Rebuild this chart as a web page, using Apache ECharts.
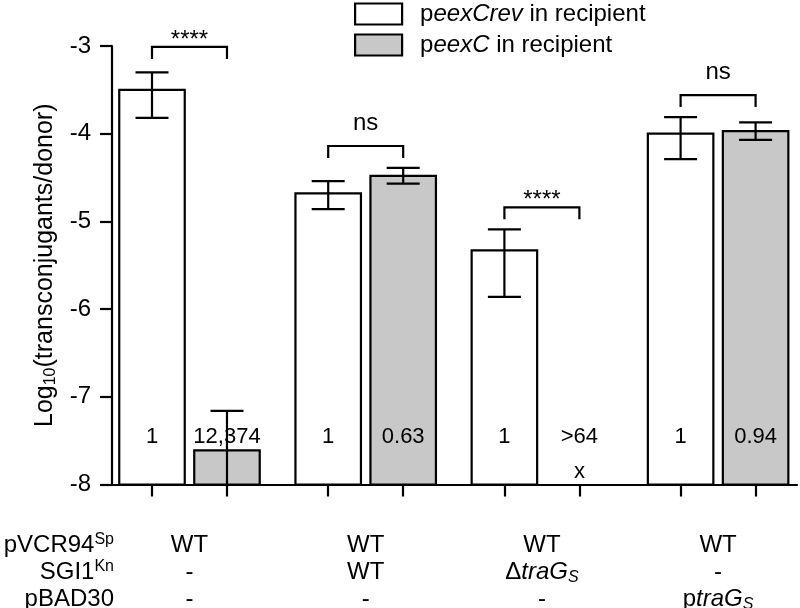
<!DOCTYPE html>
<html><head><meta charset="utf-8">
<script src="https://cdn.jsdelivr.net/npm/echarts@6/dist/echarts.min.js"></script>
<style>html,body{margin:0;padding:0;background:#fff}#c{width:800px;height:608px}</style>
</head><body><div id="c"></div><script>
// ---------- data ----------
const groups = ['pVCR94', 'pVCR94 + SGI1', 'pVCR94 + SGI1 ΔtraGS', 'pVCR94 + ptraGS'];
const seriesNames = ['peexCrev in recipient', 'peexC in recipient'];
const legendLabels = ['p{it|eexCrev} in recipient', 'p{it|eexC} in recipient'];
const revMean = [-3.50, -4.68, -5.33, -4.00];
const revHigh = [-3.30, -4.54, -5.09, -3.81];
const revLow  = [-3.82, -4.86, -5.86, -4.29];
const eexMean = [-7.61, -4.48, null, -3.97];
const eexHigh = [-7.16, -4.39, null, -3.87];
const eexLow  = [-8.30, -4.57, null, -4.07];
const revRatio = ['1', '1', '1', '1'];
const eexRatio = ['12,374', '0.63', '>64', '0.94'];
const eexUndetected = [null, null, -7.86, null];
const sigLabels = ['****', 'ns', '****', 'ns'];
const sigLevel = [-3.01, -4.14, -4.84, -3.56];
const yTicks = [-8, -7, -6, -5, -4, -3];
const rowHeaders = ['pVCR94{sup|Sp}', 'SGI1{sup|Kn}', 'pBAD30'];
const rowPVCR94 = ['WT', 'WT', 'WT', 'WT'];
const rowSGI1 = ['-', 'WT', 'Δ{it|traG}{sub|S}', '-'];
const rowPBAD30 = ['-', '-', '-', 'p{it|traG}{sub|S}'];
const RATIO_LEVEL = -7.46;

// ---------- layout / style ----------
const FONT = '"Liberation Sans", Arial, Helvetica, sans-serif';
const FS = 24;
const LH = 27;
const Y_MIN = yTicks[0], Y_MAX = yTicks[yTicks.length - 1];
const X_MIN = -0.4398, X_MAX = 3.4478;
const OFFSET = 0.2128;      // bar centre offset from group centre (group units)
const BAR_FRAC = 0.3717;    // bar width (group units)
const CAP = 16.5;           // error cap half width px
const LW = 2.2;
const fills = ['#ffffff', '#c8c8c8'];
const sigGap = { 'ns': 23, '****': 7 };

const richBase = { fontFamily: FONT, fontSize: FS, color: '#000', lineHeight: LH };
const rich = {
  it: Object.assign({}, richBase, { fontStyle: 'italic' }),
  sub: { fontFamily: FONT, fontSize: 16, fontStyle: 'italic', color: '#000', lineHeight: 11, verticalAlign: 'bottom' },
  sup: { fontFamily: FONT, fontSize: 16, color: '#000', lineHeight: 21, verticalAlign: 'top' }
};

const stroke = { stroke: '#000', lineWidth: LW };

function barSeries(k) {
  const mean = k === 0 ? revMean : eexMean;
  const high = k === 0 ? revHigh : eexHigh;
  const low = k === 0 ? revLow : eexLow;
  const side = k === 0 ? -1 : 1;
  return {
    name: seriesNames[k], type: 'custom', coordinateSystem: 'cartesian2d',
    silent: true, z: 2,
    itemStyle: { color: fills[k], borderColor: '#000', borderWidth: LW },
    encode: { x: 0, y: 1 },
    data: groups.map((g, i) => [i, mean[i] == null ? Y_MIN : mean[i]]),
    renderItem: (params, api) => {
      const i = params.dataIndex;
      if (mean[i] == null) return { type: 'group', children: [] };
      const band = api.size([1, 0])[0];
      const w = band * BAR_FRAC;
      const p = api.coord([i + side * OFFSET, mean[i]]);
      const xc = p[0], top = p[1];
      const base = api.coord([i, Y_MIN])[1];
      const hiY = api.coord([i, high[i]])[1];
      const loY = Math.min(api.coord([i, low[i]])[1], base);
      const ch = [
        { type: 'rect', shape: { x: xc - w / 2, y: top, width: w, height: base - top },
          style: { fill: fills[k], stroke: '#000', lineWidth: LW } },
        { type: 'line', shape: { x1: xc, y1: hiY, x2: xc, y2: loY }, style: stroke },
        { type: 'line', shape: { x1: xc - CAP, y1: hiY, x2: xc + CAP, y2: hiY }, style: stroke }
      ];
      if (low[i] > Y_MIN) ch.push({ type: 'line', shape: { x1: xc - CAP, y1: loY, x2: xc + CAP, y2: loY }, style: stroke });
      return { type: 'group', children: ch };
    }
  };
}

const ratioSeries = {
  type: 'custom', coordinateSystem: 'cartesian2d', silent: true, z: 3,
  encode: { x: 0, y: 1 },
  data: groups.map((g, i) => [i, RATIO_LEVEL]),
  renderItem: (params, api) => {
    const i = params.dataIndex;
    const txt = (t, x, y) => ({ type: 'text', x: x, y: y,
      style: { text: t, fill: '#000', fontSize: 22, fontFamily: FONT, align: 'center', verticalAlign: 'middle' } });
    const a = api.coord([i - OFFSET, RATIO_LEVEL]);
    const b = api.coord([i + OFFSET, RATIO_LEVEL]);
    const ch = [txt(revRatio[i], a[0], a[1]), txt(eexRatio[i], b[0], b[1])];
    if (eexUndetected[i] != null) {
      const c = api.coord([i + OFFSET, eexUndetected[i]]);
      ch.push(txt('x', c[0], c[1]));
    }
    return { type: 'group', children: ch };
  }
};

const sigSeries = {
  type: 'custom', coordinateSystem: 'cartesian2d', silent: true, z: 3,
  encode: { x: 0, y: 1 },
  data: groups.map((g, i) => [i, sigLevel[i]]),
  renderItem: (params, api) => {
    const i = params.dataIndex;
    const l = api.coord([i - OFFSET, sigLevel[i]]);
    const r = api.coord([i + OFFSET, sigLevel[i]]);
    return { type: 'group', children: [
      { type: 'polyline', shape: { points: [[l[0], l[1] + 12], [l[0], l[1]], [r[0], r[1]], [r[0], r[1] + 12]] },
        style: { stroke: '#000', lineWidth: LW, fill: null } },
      { type: 'text', x: (l[0] + r[0]) / 2, y: l[1] - sigGap[sigLabels[i]],
        style: { text: sigLabels[i], fill: '#000', fontSize: FS, fontFamily: FONT, align: 'center', verticalAlign: 'middle' } }
    ] };
  }
};

const tickValues = [];
groups.forEach((g, i) => { tickValues.push(i - OFFSET, i + OFFSET); });

const chart = echarts.init(document.getElementById('c'), null, { renderer: 'canvas' });
chart.setOption({
  animation: false,
  backgroundColor: '#fff',
  grid: { left: 112, right: 3, top: 46, bottom: 123.5, containLabel: false, outerBoundsMode: 'none' },
  legend: {
    orient: 'vertical', left: 354, top: 2, padding: 0, itemGap: 7,
    itemWidth: 47, itemHeight: 21, selectedMode: false,
    data: seriesNames.map((n, k) => ({ name: n, icon: 'rect',
      itemStyle: { color: fills[k], borderColor: '#000', borderWidth: LW } })),
    formatter: n => legendLabels[seriesNames.indexOf(n)],
    textStyle: { fontFamily: FONT, fontSize: FS, color: '#000', lineHeight: 24, padding: [0, 0, 0, 13],
      rich: { it: { fontFamily: FONT, fontSize: FS, fontStyle: 'italic', color: '#000', lineHeight: 24 } } }
  },
  xAxis: {
    type: 'value', min: X_MIN, max: X_MAX,
    splitLine: { show: false },
    axisLine: { show: true, onZero: false, lineStyle: { color: '#000', width: LW } },
    axisTick: { show: true, customValues: tickValues, length: 12, lineStyle: { color: '#000', width: LW } },
    axisLabel: {
      show: true, customValues: [0, 1, 2, 3], margin: 47, color: '#000',
      fontFamily: FONT, fontSize: FS, lineHeight: LH, align: 'center',
      formatter: v => { const i = Math.round(v); return rowPVCR94[i] + '\n' + rowSGI1[i] + '\n' + rowPBAD30[i]; },
      rich: rich
    }
  },
  yAxis: {
    type: 'value', min: Y_MIN, max: Y_MAX, interval: 1,
    splitLine: { show: false },
    axisLine: { show: true, onZero: false, lineStyle: { color: '#000', width: LW } },
    axisTick: { show: true, length: 12, lineStyle: { color: '#000', width: LW } },
    axisLabel: { margin: 21, color: '#000', fontFamily: FONT, fontSize: FS },
    name: 'Log{sub|10}(transconjugants/donor)',
    nameLocation: 'middle', nameRotate: 90, nameGap: 52,
    nameTextStyle: { fontFamily: FONT, fontSize: 25, color: '#000', lineHeight: 28,
      rich: { sub: { fontFamily: FONT, fontSize: 16, color: '#000', lineHeight: 12, verticalAlign: 'bottom' } } }
  },
  graphic: rowHeaders.map((h, r) => ({
    type: 'text', right: 800 - 114, top: 531.5 + r * LH, silent: true,
    style: { text: h, fill: '#000', fontSize: FS, fontFamily: FONT, lineHeight: LH, align: 'right', rich: rich }
  })),
  series: [barSeries(0), barSeries(1), ratioSeries, sigSeries]
});
</script></body></html>
